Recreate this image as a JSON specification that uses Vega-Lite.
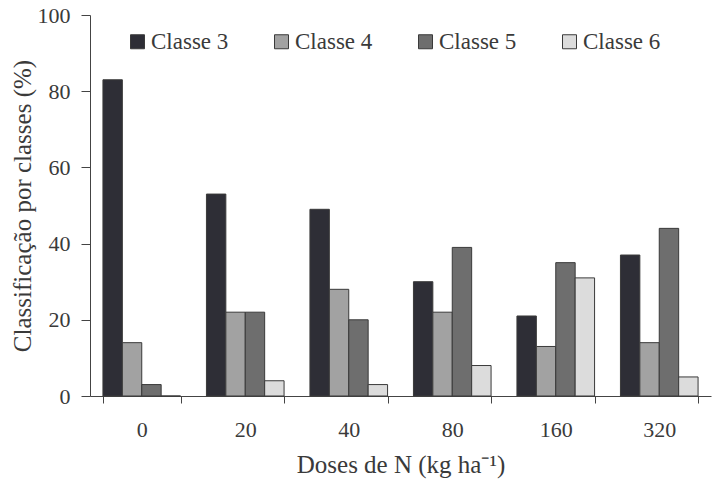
{
  "$schema": "https://vega.github.io/schema/vega-lite/v6.json",
  "width": 621,
  "height": 381,
  "autosize": {"type": "none"},
  "padding": {"left": 90, "top": 15, "right": 2, "bottom": 85},
  "background": "white",
  "config": {
    "view": {"stroke": null},
    "font": "Liberation Serif",
    "axis": {"labelFont": "Liberation Serif", "titleFont": "Liberation Serif", "labelColor": "#3a3a3a", "titleColor": "#3a3a3a", "domainColor": "#444", "tickColor": "#444", "titleFontWeight": "normal"}
  },
  "data": {
    "values": [
      {"dose": "0", "classe": "Classe 3", "pct": 83},
      {"dose": "0", "classe": "Classe 4", "pct": 14},
      {"dose": "0", "classe": "Classe 5", "pct": 3},
      {"dose": "0", "classe": "Classe 6", "pct": 0},
      {"dose": "20", "classe": "Classe 3", "pct": 53},
      {"dose": "20", "classe": "Classe 4", "pct": 22},
      {"dose": "20", "classe": "Classe 5", "pct": 22},
      {"dose": "20", "classe": "Classe 6", "pct": 4},
      {"dose": "40", "classe": "Classe 3", "pct": 49},
      {"dose": "40", "classe": "Classe 4", "pct": 28},
      {"dose": "40", "classe": "Classe 5", "pct": 20},
      {"dose": "40", "classe": "Classe 6", "pct": 3},
      {"dose": "80", "classe": "Classe 3", "pct": 30},
      {"dose": "80", "classe": "Classe 4", "pct": 22},
      {"dose": "80", "classe": "Classe 5", "pct": 39},
      {"dose": "80", "classe": "Classe 6", "pct": 8},
      {"dose": "160", "classe": "Classe 3", "pct": 21},
      {"dose": "160", "classe": "Classe 4", "pct": 13},
      {"dose": "160", "classe": "Classe 5", "pct": 35},
      {"dose": "160", "classe": "Classe 6", "pct": 31},
      {"dose": "320", "classe": "Classe 3", "pct": 37},
      {"dose": "320", "classe": "Classe 4", "pct": 14},
      {"dose": "320", "classe": "Classe 5", "pct": 44},
      {"dose": "320", "classe": "Classe 6", "pct": 5}
    ]
  },
  "mark": {"type": "bar", "stroke": "#3a3a3a", "strokeWidth": 1},
  "encoding": {
    "x": {
      "field": "dose",
      "type": "nominal",
      "sort": ["0", "20", "40", "80", "160", "320"],
      "scale": {"paddingInner": 0.25, "paddingOuter": 0.125},
      "axis": {
        "title": "Doses de N (kg ha⁻¹)",
        "labelAngle": 0,
        "labelFontSize": 22,
        "titleFontSize": 25,
        "tickBand": "extent",
        "tickSize": 7,
        "labelPadding": 16,
        "titlePadding": 12
      }
    },
    "xOffset": {
      "field": "classe",
      "type": "nominal",
      "sort": ["Classe 3", "Classe 4", "Classe 5", "Classe 6"],
      "scale": {"paddingInner": 0, "paddingOuter": 0}
    },
    "y": {
      "field": "pct",
      "type": "quantitative",
      "scale": {"domain": [0, 100]},
      "axis": {
        "title": "Classificação por classes (%)",
        "values": [0, 20, 40, 60, 80, 100],
        "grid": false,
        "labelFontSize": 22,
        "titleFontSize": 25,
        "tickSize": 9,
        "labelPadding": 11,
        "titlePadding": 2
      }
    },
    "fill": {
      "field": "classe",
      "type": "nominal",
      "sort": ["Classe 3", "Classe 4", "Classe 5", "Classe 6"],
      "scale": {"range": ["#2e2e36", "#a2a2a2", "#6e6e6e", "#dcdcdc"]},
      "legend": {
        "title": null,
        "orient": "none",
        "legendX": 36,
        "legendY": 15,
        "direction": "horizontal",
        "columns": 4,
        "columnPadding": 41,
        "symbolType": "square",
        "symbolSize": 196,
        "symbolStrokeColor": "#3a3a3a",
        "symbolStrokeWidth": 1,
        "labelFontSize": 23,
        "labelFont": "Liberation Serif",
        "labelColor": "#3a3a3a",
        "labelOffset": 2
      }
    }
  }
}
